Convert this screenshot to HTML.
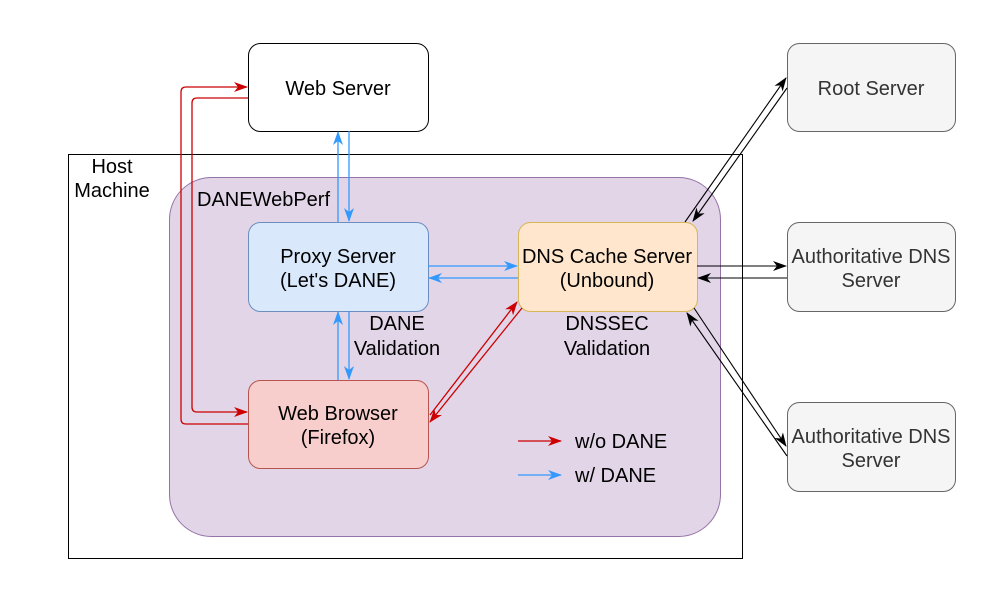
<!DOCTYPE html>
<html><head><meta charset="utf-8"><style>
body{margin:0;background:#fff}
svg text{font-family:"Liberation Sans",Helvetica,sans-serif;font-size:20px;fill:#000}
</style></head><body>
<svg width="1006" height="586" viewBox="0 0 1006 586" xmlns="http://www.w3.org/2000/svg">
<defs>
<marker id="r" markerWidth="16" markerHeight="12" refX="13" refY="5" orient="auto" markerUnits="userSpaceOnUse"><path d="M0,0 L14,5 L0,10 L4,5z" fill="#cc0000"/></marker>
<marker id="b" markerWidth="16" markerHeight="12" refX="13" refY="5" orient="auto" markerUnits="userSpaceOnUse"><path d="M0,0 L14,5 L0,10 L4,5z" fill="#3399ff"/></marker>
<marker id="k" markerWidth="16" markerHeight="12" refX="13" refY="5" orient="auto" markerUnits="userSpaceOnUse"><path d="M0,0 L14,5 L0,10 L4,5z" fill="#000"/></marker>
</defs>
<rect x="68.5" y="154.5" width="674" height="404" fill="#fff" stroke="#000"/>
<rect x="169.5" y="177.5" width="551" height="359" rx="42" fill="#e1d5e7" stroke="#9673a6"/>
<text x="112" y="173" text-anchor="middle">Host</text>
<text x="112" y="197" text-anchor="middle">Machine</text>
<text x="197" y="206">DANEWebPerf</text>

<rect x="248.5" y="43.5" width="180" height="88" rx="12" fill="#fff" stroke="#000"/>
<text x="338" y="95" text-anchor="middle">Web Server</text>
<rect x="248.5" y="222.5" width="180" height="89" rx="12" fill="#dae8fc" stroke="#6c8ebf"/>
<text x="338" y="263" text-anchor="middle">Proxy Server</text>
<text x="338" y="287" text-anchor="middle">(Let's DANE)</text>
<rect x="518.5" y="222.5" width="179" height="89" rx="12" fill="#ffe6cc" stroke="#d6b656"/>
<text x="607" y="263" text-anchor="middle">DNS Cache Server</text>
<text x="607" y="287" text-anchor="middle">(Unbound)</text>
<rect x="248.5" y="380.5" width="180" height="88" rx="12" fill="#f8cecc" stroke="#b85450"/>
<text x="338" y="420" text-anchor="middle">Web Browser</text>
<text x="338" y="444" text-anchor="middle">(Firefox)</text>
<g fill="#f5f5f5" stroke="#666">
<rect x="787.5" y="43.5" width="168" height="88" rx="12"/>
<rect x="787.5" y="222.5" width="168" height="89" rx="12"/>
<rect x="787.5" y="402.5" width="168" height="89" rx="12"/>
</g>
<text x="871" y="95" text-anchor="middle" style="fill:#333">Root Server</text>
<text x="871" y="263" text-anchor="middle" style="fill:#333">Authoritative DNS</text>
<text x="871" y="287" text-anchor="middle" style="fill:#333">Server</text>
<text x="871" y="443" text-anchor="middle" style="fill:#333">Authoritative DNS</text>
<text x="871" y="467" text-anchor="middle" style="fill:#333">Server</text>
<text x="397" y="330" text-anchor="middle">DANE</text>
<text x="397" y="355" text-anchor="middle">Validation</text>
<text x="607" y="330" text-anchor="middle">DNSSEC</text>
<text x="607" y="355" text-anchor="middle">Validation</text>

<g fill="none" stroke="#cc0000" stroke-width="1.3">
<path d="M248,424 H186 Q181,424 181,419 V92 Q181,87 186,87 H247" marker-end="url(#r)"/>
<path d="M248,98 H197 Q192,98 192,103 V407 Q192,412 197,412 H247" marker-end="url(#r)"/>
<path d="M430,415 L517,302" marker-end="url(#r)"/>
<path d="M522,308 L430,422" marker-end="url(#r)"/>
<path d="M518,441 H561" marker-end="url(#r)"/>
</g>
<g fill="none" stroke="#3399ff" stroke-width="1.3">
<path d="M338,222 V132" marker-end="url(#b)"/>
<path d="M349,131 V221" marker-end="url(#b)"/>
<path d="M338,380 V312" marker-end="url(#b)"/>
<path d="M349,311 V379" marker-end="url(#b)"/>
<path d="M428,266 H517" marker-end="url(#b)"/>
<path d="M518,278 H429" marker-end="url(#b)"/>
<path d="M518,475 H561" marker-end="url(#b)"/>
</g>
<g fill="none" stroke="#000" stroke-width="1.1">
<path d="M685,222 L786,78" marker-end="url(#k)"/>
<path d="M787,88 L693,221" marker-end="url(#k)"/>
<path d="M697,266 H786" marker-end="url(#k)"/>
<path d="M787,278 H698" marker-end="url(#k)"/>
<path d="M694,308 L786,446" marker-end="url(#k)"/>
<path d="M787,456 L687,313" marker-end="url(#k)"/>
</g>
<text x="575" y="448">w/o DANE</text>
<text x="575" y="482">w/ DANE</text>
</svg>
</body></html>
